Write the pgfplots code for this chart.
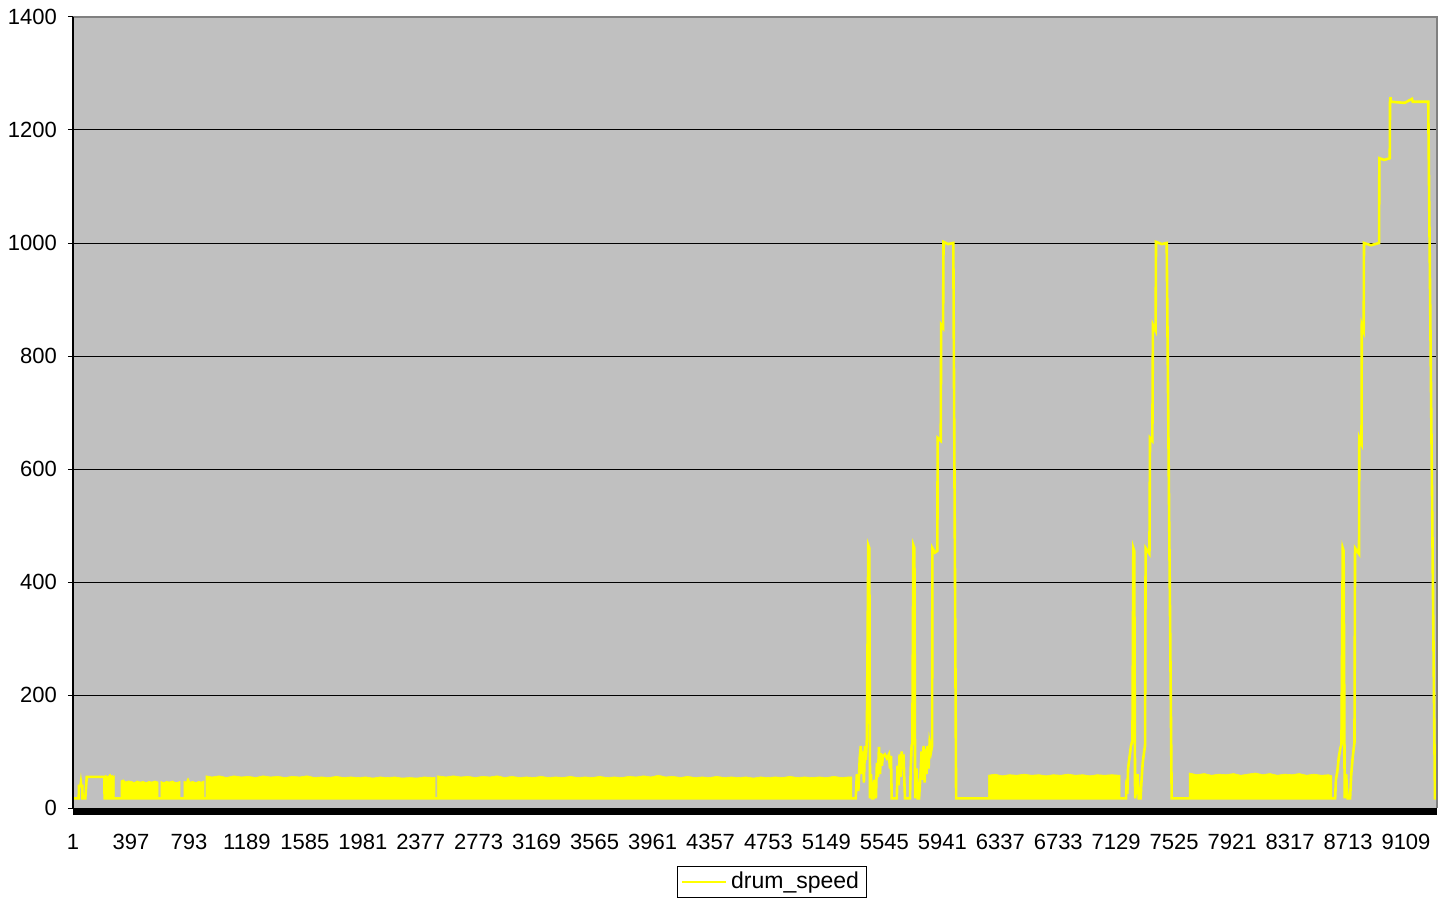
\documentclass[border=0pt]{standalone}
\usepackage{fontspec}
\setmainfont{Liberation Sans}
\usepackage{pgfplots}
\pgfplotsset{compat=1.18}
\definecolor{plotgray}{HTML}{C0C0C0}
\definecolor{bordergray}{HTML}{808080}
\definecolor{xlyellow}{HTML}{FFFF00}
\begin{document}
\begin{tikzpicture}
\begin{axis}[
  scale only axis, width=682pt, height=395.5pt,
  xmin=1, xmax=9321, ymin=0, ymax=1400,
  xtick={1,397,...,9109}, ytick={0,200,...,1400},
  scaled x ticks=false, scaled y ticks=false,
  /pgf/number format/1000 sep={},
  /pgf/number format/assume math mode=true,
  ymajorgrids, grid style={black, line width=0.5pt},
  axis background/.style={fill=plotgray},
  axis line style={draw=none},
  ytick pos=left, xtick pos=bottom,
  tick align=outside, major tick length=2.5pt,
  ytick style={black, line width=0.5pt},
  xtick style={draw=none},
  tick label style={font=\fontsize{11}{13}\selectfont},
  xticklabel style={yshift=-7pt},
  yticklabel style={xshift=-2pt},
  legend style={at={(0.5125,-0.0936)}, anchor=center, draw=black, line width=0.5pt,
    fill=white, font=\fontsize{11.5}{13}\selectfont, inner xsep=2pt, inner ysep=1pt},
  legend image code/.code={\draw[#1, line width=1pt] (0pt,0pt) -- (22pt,0pt);},
  after end axis/.code={
    \draw[bordergray, line width=0.6pt] (rel axis cs:0,1) -- (rel axis cs:1,1) -- (rel axis cs:1,0);
    \draw[black, line width=0.6pt] (rel axis cs:0,0) -- (rel axis cs:0,1);
    \fill[black] (rel axis cs:0,0) rectangle ([yshift=-3.5pt]rel axis cs:1,0);
  },
]
\coordinate (bl) at (rel axis cs:0,0);
\coordinate (tr) at (rel axis cs:1,1);

\addplot[xlyellow, line width=1.3pt] coordinates {
(1,17)(40,17)(42,39)(52,39)(55,45)(58,39)(65,39)(66,17)(85,17)(95,55)(215,55)(217,17)
(5349,17)(5357,60)(5367,30)(5377,90)(5384,110)(5391,60)(5398,100)(5405,45)(5412,110)
(5418,85)(5425,120)(5435,465)(5442,460)(5447,17)(5453,60)(5460,17)(5470,17)(5477,50)
(5487,17)(5494,80)(5501,55)(5508,108)(5515,60)(5521,97)(5528,75)(5535,92)(5548,95)
(5562,88)(5576,95)(5583,70)(5590,92)(5595,17)(5630,17)(5635,75)(5642,40)(5649,95)
(5656,55)(5663,100)(5670,70)(5676,95)(5681,50)(5686,17)(5720,17)(5725,70)(5731,110)
(5736,115)(5743,465)(5750,460)(5755,17)(5765,70)(5772,17)(5782,17)(5792,60)(5799,100)
(5806,50)(5813,110)(5820,45)(5827,105)(5833,60)(5840,110)(5847,70)(5854,115)(5864,100)
(5871,110)(5873,460)(5890,452)(5907,455)(5909,655)(5930,650)(5933,855)(5946,850)
(5949,1002)(5980,998)(6016,1000)(6035,17)
(7196,17)(7200,50)(7205,25)(7210,70)(7220,90)(7230,110)(7240,120)(7246,460)(7252,455)
(7258,17)(7275,60)(7283,17)(7296,17)(7300,40)(7310,80)(7320,100)(7326,110)
(7330,460)(7356,450)(7360,655)(7376,650)(7380,855)(7398,845)(7401,1002)(7440,998)(7474,1000)(7508,17)
(8625,17)(8630,50)(8640,65)(8650,90)(8660,105)(8668,113)(8677,460)(8683,455)(8690,17)
(8700,60)(8710,17)(8727,17)(8735,60)(8745,90)(8757,116)(8761,460)(8788,450)
(8790,655)(8805,645)(8807,855)(8820,845)(8822,1000)(8870,996)(8925,1000)
(8927,1150)(8960,1147)(8998,1150)(9000,1250)(9003,1258)(9006,1250)(9100,1248)(9150,1255)(9155,1250)(9261,1250)
(9307,17)(9321,17)
};
\addlegendentry{drum\_speed}

% dense noise bands (filled envelopes)
\addplot[xlyellow, fill=xlyellow, line width=0.3pt, forget plot] coordinates {
(217,17)(217,56)(225,58)(235,55)(245,57)(255,60)(262,56)(270,58)(278,55)(283,57)(283,17)};
\addplot[xlyellow, fill=xlyellow, line width=0.3pt, forget plot] coordinates {
(329,17)(329,48)(345,50)(360,46)(380,48)(400,47)(420,45)(440,48)(460,46)(480,47)(500,45)
(520,47)(540,46)(560,48)(582,46)(582,17)};
\addplot[xlyellow, fill=xlyellow, line width=0.3pt, forget plot] coordinates {
(602,17)(602,47)(620,45)(640,47)(660,46)(680,48)(700,45)(720,46)(732,47)(732,17)};
\addplot[xlyellow, fill=xlyellow, line width=0.3pt, forget plot] coordinates {
(759,17)(759,47)(775,46)(787,53)(800,46)(820,47)(840,45)(860,47)(880,46)(896,48)(896,17)};
\addplot[xlyellow, fill=xlyellow, line width=0.3pt, forget plot] coordinates {
(910,17)(910,57)(950,55)(1000,57)(1050,54)(1100,57)(1150,55)(1200,56)(1250,54)(1300,57)
(1350,55)(1400,56)(1450,54)(1500,56)(1550,55)(1600,57)(1650,54)(1700,55)(1750,54)(1800,56)
(1850,54)(1900,55)(1950,54)(2000,55)(2050,53)(2100,55)(2150,54)(2200,55)(2250,53)(2300,54)
(2350,53)(2400,55)(2475,54)(2475,17)};
\addplot[xlyellow, fill=xlyellow, line width=0.3pt, forget plot] coordinates {
(2490,17)(2490,57)(2550,55)(2600,57)(2650,55)(2700,56)(2750,54)(2800,56)(2850,55)(2900,57)
(2950,54)(3000,56)(3050,54)(3100,55)(3150,54)(3200,56)(3250,54)(3300,55)(3350,54)(3400,56)
(3450,54)(3500,55)(3550,54)(3600,56)(3650,54)(3700,55)(3750,54)(3800,56)(3850,55)(3900,57)
(3950,55)(4000,58)(4050,55)(4100,56)(4150,54)(4200,56)(4250,54)(4300,55)(4350,54)(4400,56)
(4450,54)(4500,55)(4550,54)(4600,55)(4650,53)(4700,55)(4750,54)(4800,55)(4850,54)(4900,56)
(4950,54)(5000,55)(5050,54)(5100,55)(5150,54)(5200,56)(5250,54)(5300,55)(5322,55)(5322,17)};
\addplot[xlyellow, fill=xlyellow, line width=0.3pt, forget plot] coordinates {
(6255,17)(6255,58)(6300,60)(6350,57)(6400,59)(6450,58)(6500,60)(6550,58)(6600,59)(6650,57)
(6700,59)(6750,58)(6800,60)(6850,58)(6900,59)(6950,57)(7000,59)(7050,58)(7100,59)(7155,58)(7155,17)};
\addplot[xlyellow, fill=xlyellow, line width=0.3pt, forget plot] coordinates {
(7628,17)(7628,62)(7680,59)(7730,61)(7780,58)(7830,60)(7880,59)(7930,61)(7980,58)(8030,60)
(8080,62)(8130,59)(8180,61)(8230,58)(8280,60)(8330,59)(8380,61)(8430,58)(8480,60)(8530,58)
(8580,59)(8602,57)(8602,17)};
\end{axis}
\pgfresetboundingbox
\path ([xshift=-36.5pt,yshift=-46pt]bl) rectangle ([xshift=9pt,yshift=8.5pt]tr);
\end{tikzpicture}
\end{document}
